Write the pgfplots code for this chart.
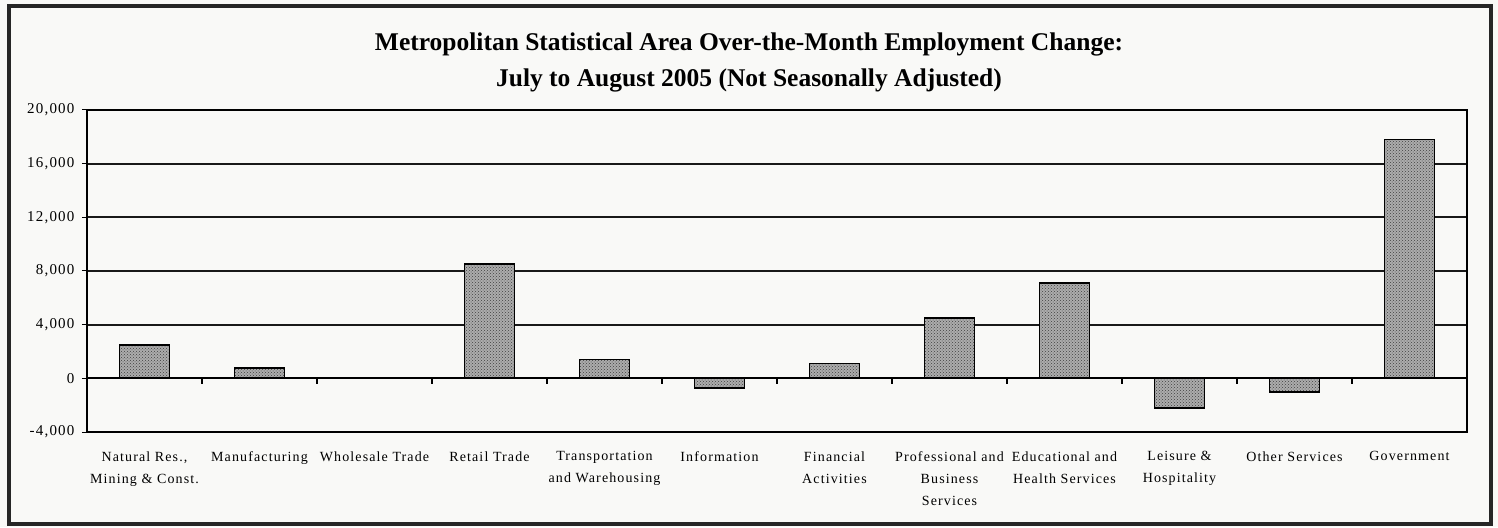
\documentclass[border=0pt]{standalone}
\usepackage{fontspec}
\setmainfont{Liberation Serif}
\newfontfamily\lblfont{Liberation Serif}[LetterSpace=8]
\usepackage{pgfplots}
\usetikzlibrary{patterns}
\pgfplotsset{compat=1.18}
\definecolor{barfill}{RGB}{172,172,172}
\definecolor{bg}{RGB}{249,249,247}
\begin{document}
\begin{tikzpicture}
% page background and outer frame (image coords: axis SW at (87,432))
\fill[bg] (-87pt,-95pt) rectangle (1411pt,432pt);
\draw[line width=3.5pt, black!85] (-78pt,-92pt) rectangle (1404pt,426pt);
\begin{axis}[
  at={(0pt,0pt)}, anchor=south west,
  scale only axis, width=1380pt, height=322pt,
  xmin=-0.5, xmax=11.5, ymin=-4000, ymax=20000,
  ytick={-4000,0,4000,8000,12000,16000,20000},
  scaled y ticks=false,
  ymajorgrids, grid style={black!90, line width=1.8pt},
  axis line style={black, line width=1.3pt},
  ybar, bar width=50pt,
  xtick={0,...,11},
  xticklabels={{Natural Res.,\\Mining \& Const.},{Manufacturing},{Wholesale Trade},{Retail Trade},{Transportation\\and Warehousing},{Information},{Financial\\Activities},{Professional and\\Business\\Services},{Educational and\\Health Services},{Leisure \&\\Hospitality},{Other Services},{Government}},
  x tick style={draw=none},
  ytick pos=left, tick align=outside, major tick length=5pt,
  y tick style={black, line width=1pt},
  xticklabel style={font=\lblfont\fontsize{14}{22}\selectfont, align=center, anchor=north, yshift=-11pt},
  yticklabel style={font=\lblfont\fontsize{15}{15}\selectfont, xshift=-4pt},
  /pgf/number format/1000 sep={,},
  /pgf/number format/assume math mode=true,
  clip=false,
]
\addplot[draw=black, line width=1.8pt, fill=none,
  preaction={fill=barfill},
  preaction={pattern=crosshatch dots, pattern color=black!75}] coordinates {
  (0,2500) (1,800) (2,0) (3,8500) (4,1400) (5,-700)
  (6,1100) (7,4500) (8,7100) (9,-2200) (10,-1000) (11,17800)
};
\draw[black, line width=1.8pt] (axis cs:-0.5,0) -- (axis cs:11.5,0);
\pgfplotsinvokeforeach{0.5,1.5,2.5,3.5,4.5,5.5,6.5,7.5,8.5,9.5,10.5}{
  \draw[black, line width=1.3pt] (axis cs:#1,0) -- ++(0pt,-6pt);
}
\end{axis}
\node[font=\bfseries\fontsize{25.5}{36}\selectfont, align=center, anchor=base] at (662pt,345pt) {Metropolitan Statistical Area Over-the-Month Employment Change:\\July to August 2005 (Not Seasonally Adjusted)};
\end{tikzpicture}
\end{document}
